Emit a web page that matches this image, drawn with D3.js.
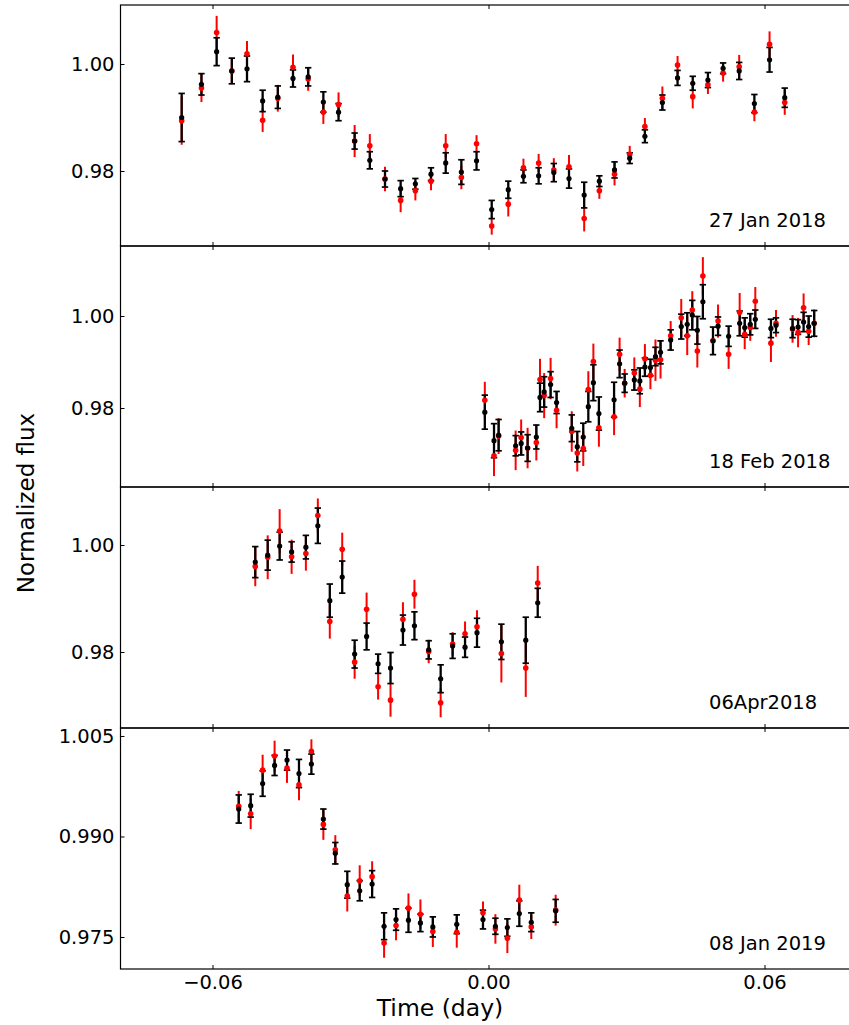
<!DOCTYPE html>
<html>
<head>
<meta charset="utf-8">
<script src="https://d3js.org/d3.v7.min.js"></script>
<style>
  body { margin: 0; background: #fff; }
  svg { display: block; }
  text { font-family: "DejaVu Sans", sans-serif; fill: #000; }
</style>
</head>
<body>
<svg id="chart" width="849" height="1025"></svg>
<script>
// ---- data ----
const jan18Time = [-0.0667, -0.0624, -0.0591, -0.0558, -0.0525, -0.0491, -0.0458, -0.0425, -0.0392, -0.0359,
  -0.0326, -0.0291, -0.0258, -0.0225, -0.0191, -0.0159, -0.0125, -0.0093, -0.0059, -0.0026,
  0.0007, 0.0043, 0.0076, 0.0109, 0.0142, 0.0175, 0.0208, 0.0241, 0.0274, 0.0307,
  0.0340, 0.0378, 0.0411, 0.0444, 0.0477, 0.0510, 0.0545, 0.0578, 0.0611, 0.0644];
const jan18Black = [0.9900, 0.9962, 1.0023, 0.9987, 0.9991, 0.9931, 0.9938, 0.9973, 0.9976, 0.9929,
  0.9910, 0.9856, 0.9820, 0.9785, 0.9767, 0.9776, 0.9794, 0.9815, 0.9798, 0.9819,
  0.9728, 0.9765, 0.9790, 0.9791, 0.9797, 0.9786, 0.9755, 0.9781, 0.9802, 0.9824,
  0.9865, 0.9928, 0.9974, 0.9964, 0.9970, 0.9992, 0.9987, 0.9926, 1.0008, 0.9937];
const jan18BlackErr = [0.0045, 0.0020, 0.0026, 0.0024, 0.0024, 0.0020, 0.0021, 0.0016, 0.0017, 0.0019,
  0.0016, 0.0015, 0.0016, 0.0015, 0.0015, 0.0010, 0.0012, 0.0019, 0.0023, 0.0017,
  0.0017, 0.0016, 0.0012, 0.0015, 0.0017, 0.0018, 0.0024, 0.0010, 0.0015, 0.0010,
  0.0012, 0.0014, 0.0014, 0.0013, 0.0014, 0.0010, 0.0016, 0.0017, 0.0023, 0.0018];
const jan18Red = [0.9894, 0.9955, 1.0059, 0.9987, 1.0019, 0.9895, 0.9936, 0.9994, 0.9972, 0.9910,
  0.9924, 0.9856, 0.9847, 0.9785, 0.9745, 0.9763, 0.9781, 0.9847, 0.9788, 0.9851,
  0.9697, 0.9738, 0.9806, 0.9815, 0.9802, 0.9808, 0.9711, 0.9763, 0.9794, 0.9831,
  0.9883, 0.9936, 0.9998, 0.9939, 0.9961, 0.9983, 0.9995, 0.9910, 1.0037, 0.9928];
const jan18RedErr = [0.0045, 0.0026, 0.0031, 0.0024, 0.0024, 0.0022, 0.0025, 0.0024, 0.0022, 0.0022,
  0.0023, 0.0030, 0.0022, 0.0023, 0.0022, 0.0018, 0.0017, 0.0022, 0.0022, 0.0016,
  0.0016, 0.0023, 0.0017, 0.0017, 0.0022, 0.0022, 0.0024, 0.0015, 0.0021, 0.0016,
  0.0016, 0.0022, 0.0017, 0.0022, 0.0017, 0.0016, 0.0022, 0.0017, 0.0024, 0.0023];

const feb18Time = [-0.0008, 0.0012, 0.0022, 0.0059, 0.0071, 0.0085, 0.0104, 0.0112, 0.0121, 0.0135,
  0.0148, 0.0181, 0.0193, 0.0206, 0.0217, 0.0228, 0.0240, 0.0273, 0.0285, 0.0296,
  0.0317, 0.0329, 0.0340, 0.0352, 0.0363, 0.0374, 0.0396, 0.0419, 0.0432, 0.0443,
  0.0454, 0.0466, 0.0488, 0.0499, 0.0522, 0.0546, 0.0557, 0.0569, 0.0580, 0.0614,
  0.0625, 0.0661, 0.0673, 0.0685, 0.0696, 0.0708];
const feb18Black = [0.9791, 0.9729, 0.9741, 0.9718, 0.9723, 0.9713, 0.9737, 0.9823, 0.9835, 0.9851,
  0.9812, 0.9756, 0.9716, 0.9737, 0.9803, 0.9855, 0.9788, 0.9818, 0.9896, 0.9854,
  0.9861, 0.9859, 0.9889, 0.9888, 0.9912, 0.9921, 0.9948, 0.9977, 0.9982, 1.0002,
  0.9969, 1.0031, 0.9946, 0.9978, 0.9956, 0.9984, 0.9975, 0.9982, 0.9993, 0.9973,
  0.9980, 0.9973, 0.9976, 0.9987, 0.9977, 0.9984];
const feb18BlackErr = [0.0037, 0.0037, 0.0034, 0.0022, 0.0025, 0.0029, 0.0026, 0.0031, 0.0033, 0.0028,
  0.0024, 0.0029, 0.0033, 0.0030, 0.0033, 0.0039, 0.0036, 0.0038, 0.0030, 0.0020,
  0.0022, 0.0028, 0.0020, 0.0018, 0.0020, 0.0025, 0.0022, 0.0027, 0.0025, 0.0032,
  0.0030, 0.0037, 0.0030, 0.0020, 0.0022, 0.0027, 0.0021, 0.0023, 0.0020, 0.0020,
  0.0016, 0.0020, 0.0016, 0.0021, 0.0023, 0.0028];
const feb18Red = [0.9817, 0.9696, 0.9739, 0.9708, 0.9736, 0.9713, 0.9725, 0.9862, 0.9827, 0.9864,
  0.9795, 0.9749, 0.9702, 0.9712, 0.9840, 0.9901, 0.9757, 0.9781, 0.9917, 0.9854,
  0.9876, 0.9841, 0.9907, 0.9871, 0.9904, 0.9905, 0.9957, 0.9996, 0.9957, 1.0013,
  0.9924, 1.0087, 0.9946, 0.9989, 0.9917, 1.0008, 0.9960, 0.9975, 1.0032, 0.9941,
  0.9984, 0.9972, 0.9964, 1.0018, 0.9967, 0.9984];
const feb18RedErr = [0.0040, 0.0044, 0.0039, 0.0043, 0.0039, 0.0044, 0.0039, 0.0045, 0.0049, 0.0045,
  0.0039, 0.0044, 0.0040, 0.0038, 0.0040, 0.0039, 0.0041, 0.0040, 0.0036, 0.0031,
  0.0034, 0.0039, 0.0032, 0.0030, 0.0045, 0.0041, 0.0032, 0.0041, 0.0042, 0.0041,
  0.0036, 0.0041, 0.0030, 0.0036, 0.0032, 0.0042, 0.0032, 0.0029, 0.0031, 0.0041,
  0.0029, 0.0030, 0.0032, 0.0031, 0.0030, 0.0030];

const apr18Time = [-0.0507, -0.0480, -0.0454, -0.0428, -0.0397, -0.0371, -0.0345, -0.0318, -0.0291, -0.0265,
  -0.0240, -0.0213, -0.0186, -0.0161, -0.0130, -0.0104, -0.0078, -0.0051, -0.0025, 0.0028,
  0.0081, 0.0107];
const apr18Black = [0.9968, 0.9981, 0.9998, 0.9987, 0.9996, 1.0036, 0.9896, 0.9940, 0.9796, 0.9829,
  0.9778, 0.9770, 0.9841, 0.9849, 0.9804, 0.9750, 0.9811, 0.9809, 0.9836, 0.9819,
  0.9822, 0.9892];
const apr18BlackErr = [0.0029, 0.0028, 0.0026, 0.0019, 0.0022, 0.0033, 0.0031, 0.0030, 0.0026, 0.0025,
  0.0018, 0.0029, 0.0028, 0.0026, 0.0017, 0.0026, 0.0023, 0.0019, 0.0027, 0.0033,
  0.0043, 0.0027];
const apr18Red = [0.9960, 0.9977, 1.0026, 0.9978, 0.9984, 1.0055, 0.9857, 0.9992, 0.9781, 0.9880,
  0.9735, 0.9710, 0.9861, 0.9908, 0.9801, 0.9705, 0.9815, 0.9834, 0.9847, 0.9797,
  0.9770, 0.9929];
const apr18RedErr = [0.0037, 0.0041, 0.0041, 0.0032, 0.0032, 0.0032, 0.0032, 0.0031, 0.0031, 0.0031,
  0.0024, 0.0031, 0.0032, 0.0027, 0.0022, 0.0027, 0.0022, 0.0023, 0.0031, 0.0054,
  0.0054, 0.0032];

const jan19Time = [-0.0543, -0.0517, -0.0491, -0.0465, -0.0438, -0.0412, -0.0385, -0.0359, -0.0333, -0.0307,
  -0.0280, -0.0253, -0.0227, -0.0201, -0.0174, -0.0148, -0.0121, -0.0069, -0.0012, 0.0015,
  0.0041, 0.0067, 0.0093, 0.0146];
const jan19Black = [0.9941, 0.9946, 0.9979, 1.0006, 1.0014, 0.9994, 1.0008, 0.9926, 0.9875, 0.9828,
  0.9819, 0.9829, 0.9766, 0.9776, 0.9775, 0.9771, 0.9765, 0.9769, 0.9776, 0.9766,
  0.9764, 0.9785, 0.9772, 0.9789];
const jan19BlackErr = [0.0021, 0.0017, 0.0019, 0.0015, 0.0015, 0.0021, 0.0015, 0.0015, 0.0016, 0.0020,
  0.0015, 0.0020, 0.0020, 0.0016, 0.0018, 0.0013, 0.0015, 0.0014, 0.0014, 0.0012,
  0.0013, 0.0019, 0.0014, 0.0017];
const jan19Red = [0.9945, 0.9934, 0.9999, 1.0020, 1.0002, 0.9977, 1.0027, 0.9918, 0.9880, 0.9811,
  0.9834, 0.9840, 0.9741, 0.9767, 0.9793, 0.9784, 0.9758, 0.9757, 0.9786, 0.9762,
  0.9748, 0.9805, 0.9765, 0.9790];
const jan19RedErr = [0.0023, 0.0023, 0.0023, 0.0023, 0.0022, 0.0023, 0.0018, 0.0023, 0.0022, 0.0023,
  0.0023, 0.0023, 0.0022, 0.0022, 0.0022, 0.0022, 0.0023, 0.0023, 0.0017, 0.0022,
  0.0022, 0.0023, 0.0018, 0.0023];

const xTicks = [-0.06, 0.00, 0.06];

const panels = [
  { label: "27 Jan 2018", t: jan18Time, b: jan18Black, be: jan18BlackErr, r: jan18Red, re: jan18RedErr,
    yDomain: [0.96598, 1.01103], yTicks: [0.98, 1.00], fmt: ".2f" },
  { label: "18 Feb 2018", t: feb18Time, b: feb18Black, be: feb18BlackErr, r: feb18Red, re: feb18RedErr,
    yDomain: [0.96283, 1.01522], yTicks: [0.98, 1.00], fmt: ".2f" },
  { label: "06Apr2018", t: apr18Time, b: apr18Black, be: apr18BlackErr, r: apr18Red, re: apr18RedErr,
    yDomain: [0.96579, 1.01084], yTicks: [0.98, 1.00], fmt: ".2f" },
  { label: "08 Jan 2019", t: jan19Time, b: jan19Black, be: jan19BlackErr, r: jan19Red, re: jan19RedErr,
    yDomain: [0.97022, 1.00619], yTicks: [0.975, 0.990, 1.005], fmt: ".3f" }
];

// ---- layout ----
const svg = d3.select("#chart");
const left = 120.5, right = 856.5;
const top0 = 5, panelH = 241;
const fontSize = 19.5;

const x = d3.scaleLinear().domain([-0.08, 0.08]).range([left, right]);
const minus = s => s.replace("-", "\u2212");

panels.forEach((p, i) => {
  const top = top0 + i * panelH, bottom = top + panelH;
  const y = d3.scaleLinear().domain(p.yDomain).range([bottom, top]);
  const g = svg.append("g");

  const rows = p.t.map((t, k) => ({ t, b: p.b[k], be: p.be[k], r: p.r[k], re: p.re[k] }));

  // red error bars (behind)
  g.selectAll(".rbar").data(rows).enter().append("line")
    .attr("x1", d => x(d.t)).attr("x2", d => x(d.t))
    .attr("y1", d => y(d.r - d.re)).attr("y2", d => y(d.r + d.re))
    .attr("stroke", "#ff0000").attr("stroke-width", 2);

  // black error bars with caps
  g.selectAll(".bbar").data(rows).enter().append("line")
    .attr("x1", d => x(d.t)).attr("x2", d => x(d.t))
    .attr("y1", d => y(d.b - d.be)).attr("y2", d => y(d.b + d.be))
    .attr("stroke", "#000").attr("stroke-width", 2.3);
  ["lo", "hi"].forEach(side => {
    g.selectAll(".cap" + side).data(rows).enter().append("line")
      .attr("x1", d => x(d.t) - 3.2).attr("x2", d => x(d.t) + 3.2)
      .attr("y1", d => y(side === "lo" ? d.b - d.be : d.b + d.be))
      .attr("y2", d => y(side === "lo" ? d.b - d.be : d.b + d.be))
      .attr("stroke", "#000").attr("stroke-width", 1.7);
  });

  g.selectAll(".rdot").data(rows).enter().append("circle")
    .attr("cx", d => x(d.t)).attr("cy", d => y(d.r)).attr("r", 2.8)
    .attr("fill", "#ff0000");
  g.selectAll(".bdot").data(rows).enter().append("circle")
    .attr("cx", d => x(d.t)).attr("cy", d => y(d.b)).attr("r", 2.6)
    .attr("fill", "#000");

  // frame
  svg.append("rect")
    .attr("x", left).attr("y", top).attr("width", right - left).attr("height", panelH)
    .attr("fill", "none").attr("stroke", "#000").attr("stroke-width", 1.2);

  // y axis, ticks pointing inward
  const ya = svg.append("g").attr("transform", `translate(${left},0)`)
    .call(d3.axisLeft(y).tickValues(p.yTicks).tickSize(-4).tickPadding(6)
      .tickFormat(d => d3.format(p.fmt)(d)));
  ya.select(".domain").remove();

  // top and bottom x ticks, inward
  const xt = svg.append("g").attr("transform", `translate(0,${top})`)
    .call(d3.axisTop(x).tickValues(xTicks).tickSize(-4).tickFormat(""));
  xt.select(".domain").remove();
  const xb = svg.append("g").attr("transform", `translate(0,${bottom})`)
    .call(d3.axisBottom(x).tickValues(xTicks).tickSize(-4).tickPadding(6)
      .tickFormat(i === panels.length - 1 ? d => minus(d3.format(".2f")(d)) : ""));
  xb.select(".domain").remove();

  svg.selectAll(".tick line").attr("stroke", "#000").attr("stroke-width", 1);
  svg.selectAll(".tick text")
    .style("font-family", "DejaVu Sans").style("font-size", fontSize + "px").attr("fill", "#000");

  svg.append("text")
    .attr("x", 709).attr("y", bottom - 19)
    .style("font-size", fontSize + "px")
    .text(p.label);
});

svg.append("text")
  .attr("x", 440).attr("y", 1016)
  .attr("text-anchor", "middle")
  .style("font-size", "23.5px")
  .text("Time (day)");

svg.append("text")
  .attr("transform", "translate(34,503) rotate(-90)")
  .attr("text-anchor", "middle")
  .style("font-size", "23px")
  .text("Normalized flux");
</script>
</body>
</html>
